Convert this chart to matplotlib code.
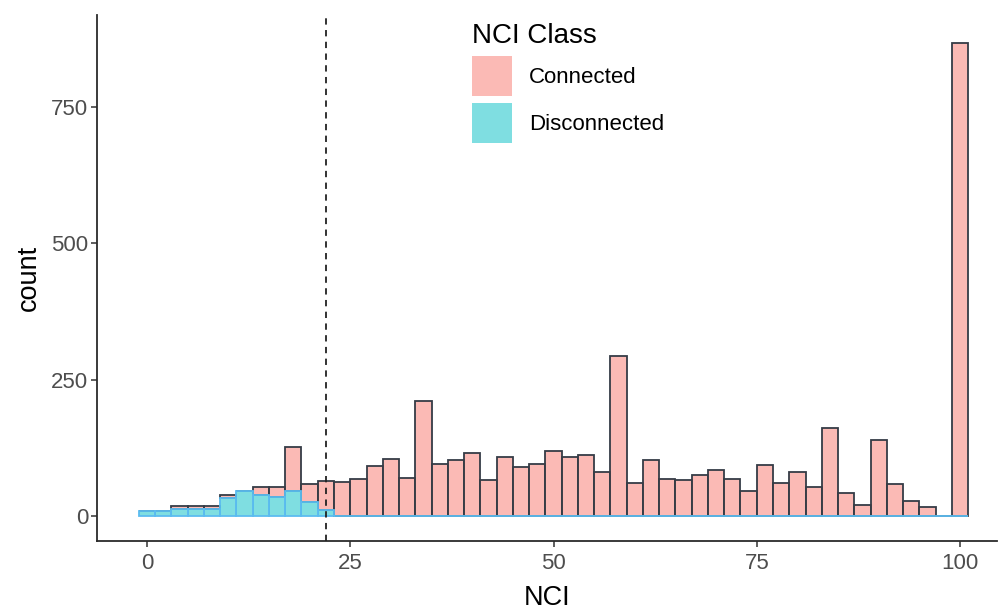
import numpy as np
import matplotlib
matplotlib.use("Agg")
import matplotlib.pyplot as plt
from matplotlib.patches import Patch

plt.rcParams['font.family'] = ['Liberation Sans', 'DejaVu Sans']

# histogram counts, binwidth 2, bins centred on 0, 2, ..., 100
nci_bins = np.arange(0, 101, 2)
total_counts = [10, 10, 18, 18, 18, 38, 46, 53, 53, 126,
                59, 64, 62, 67, 92, 105, 70, 210, 95, 103,
                116, 66, 109, 89, 95, 120, 109, 112, 80, 294,
                60, 102, 67, 66, 76, 84, 67, 45, 94, 60,
                80, 53, 161, 42, 20, 139, 59, 28, 17, 0,
                868]
disconnected_counts = [10, 10, 12, 12, 12, 33, 46, 39, 35, 45,
                       25, 11] + [0] * 39
threshold = 22

disconnected = np.array(disconnected_counts)
connected = np.array(total_counts) - disconnected

pink = '#F8766D'
teal = '#00BFC4'

fig = plt.figure(figsize=(9.98, 6.10), dpi=100)
ax = fig.add_axes([97 / 998, 1 - 541 / 610, 900 / 998, 526 / 610])

# stacked like ggplot: Connected on top, Disconnected drawn last
ax.bar(nci_bins, connected, bottom=disconnected, width=2, align='center',
       facecolor=(pink, 0.5), edgecolor='#353c46', linewidth=1.3, zorder=2)
ax.bar(nci_bins, disconnected, width=2, align='center',
       facecolor=(teal, 0.5), edgecolor='#5cbcf0', linewidth=1.3, zorder=3)

ax.axvline(threshold, color='#222222', linestyle=(0, (3.5, 3)), linewidth=1.3, zorder=4)

ax.set_xlim(-6.15, 104.55)
ax.set_ylim(-45.8, 918.7)
ax.set_xticks([0, 25, 50, 75, 100])
ax.set_yticks([0, 250, 500, 750])

for s in ['top', 'right']:
    ax.spines[s].set_visible(False)
for s in ['left', 'bottom']:
    ax.spines[s].set_color('#2b2b2b')
    ax.spines[s].set_linewidth(1.3)
ax.tick_params(length=4.3, width=1.1, color='#333333', labelsize=16,
               labelcolor='#4D4D4D')
ax.tick_params(axis='y', pad=2)
ax.tick_params(axis='x', pad=4)

ax.set_xlabel('NCI', fontsize=19.5, labelpad=8)
ax.set_ylabel('count', fontsize=19.5, labelpad=7)

handles = [Patch(facecolor=(pink, 0.5), edgecolor='none'),
           Patch(facecolor=(teal, 0.5), edgecolor='none')]
ax.legend(handles, ['Connected', 'Disconnected'], title='NCI Class',
          title_fontsize=20, fontsize=16, frameon=False, loc='upper left',
          bbox_to_anchor=(472 / 998, 1 - 23 / 610), bbox_transform=fig.transFigure,
          borderpad=0, handlelength=1.82, handleheight=2.42, handletextpad=0.73,
          labelspacing=0.3, alignment='left', borderaxespad=0)

plt.savefig('out.png', dpi=100)
